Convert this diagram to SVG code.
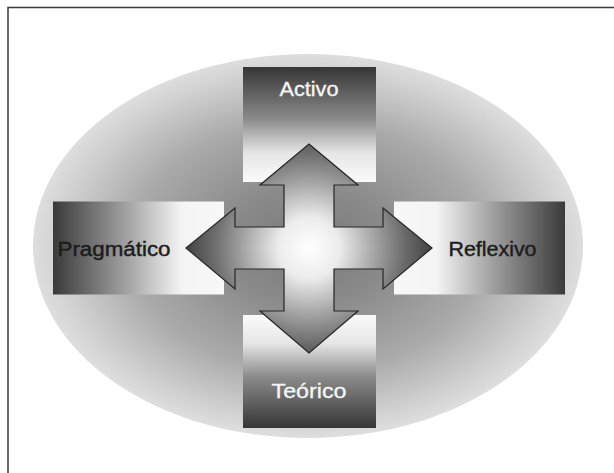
<svg xmlns="http://www.w3.org/2000/svg" width="614" height="473" viewBox="0 0 614 473">
  <style>
    .lbl { font-family: "Liberation Sans", Arial, sans-serif; font-size: 19.5px; text-anchor: middle; }
    .light { fill: #f6f6f6; stroke: #f6f6f6; stroke-width: 0.3; }
    .dark { fill: #1c1c1c; stroke: #1c1c1c; stroke-width: 0.4; }
    .frame { fill: none; stroke: #3a3a3a; stroke-width: 1.5; }
    .arrow { fill: url(#gArrow); stroke: #262626; stroke-width: 1.2; stroke-linejoin: miter; }
  </style>
  <defs>
    <radialGradient id="gEllipse" cx="0.5" cy="0.5" r="0.5">
      <stop offset="0" stop-color="#787878"/>
      <stop offset="0.3" stop-color="#8a8a8a"/>
      <stop offset="0.65" stop-color="#aaaaaa"/>
      <stop offset="0.9" stop-color="#d0d0d0"/>
      <stop offset="1" stop-color="#dedede"/>
    </radialGradient>
    <radialGradient id="gArrow" gradientUnits="userSpaceOnUse" cx="309" cy="248" r="122">
      <stop offset="0" stop-color="#ffffff"/>
      <stop offset="0.25" stop-color="#ececec"/>
      <stop offset="0.55" stop-color="#a2a2a2"/>
      <stop offset="0.8" stop-color="#686868"/>
      <stop offset="1" stop-color="#444444"/>
    </radialGradient>
    <linearGradient id="gTop" x1="0" y1="0" x2="0" y2="1">
      <stop offset="0" stop-color="#363636"/>
      <stop offset="0.45" stop-color="#8a8a8a"/>
      <stop offset="0.75" stop-color="#e6e6e6"/>
      <stop offset="1" stop-color="#fafafa"/>
    </linearGradient>
    <linearGradient id="gBottom" x1="0" y1="1" x2="0" y2="0">
      <stop offset="0" stop-color="#363636"/>
      <stop offset="0.45" stop-color="#8a8a8a"/>
      <stop offset="0.75" stop-color="#e6e6e6"/>
      <stop offset="1" stop-color="#fafafa"/>
    </linearGradient>
    <linearGradient id="gLeft" x1="0" y1="0" x2="1" y2="0">
      <stop offset="0" stop-color="#3a3a3a"/>
      <stop offset="0.4" stop-color="#9a9a9a"/>
      <stop offset="0.75" stop-color="#f4f4f4"/>
      <stop offset="1" stop-color="#f8f8f8"/>
    </linearGradient>
    <linearGradient id="gRight" x1="1" y1="0" x2="0" y2="0">
      <stop offset="0" stop-color="#3a3a3a"/>
      <stop offset="0.4" stop-color="#9a9a9a"/>
      <stop offset="0.75" stop-color="#f4f4f4"/>
      <stop offset="1" stop-color="#f8f8f8"/>
    </linearGradient>
  </defs>

  <rect width="614" height="473" fill="#ffffff"/>
  <path class="frame" d="M8,474 V7.5 H615"/>

  <g id="background">
    <ellipse cx="308" cy="246" rx="275" ry="192" fill="url(#gEllipse)"/>
  </g>

  <g id="activo">
    <rect x="243" y="67" width="133" height="115" fill="url(#gTop)"/>
    <text class="lbl light" x="309" y="96" textLength="59" lengthAdjust="spacingAndGlyphs">Activo</text>
  </g>

  <g id="teorico">
    <rect x="243" y="315" width="133" height="113" fill="url(#gBottom)"/>
    <text class="lbl light" x="309" y="398" textLength="75" lengthAdjust="spacingAndGlyphs">Teórico</text>
  </g>

  <g id="pragmatico">
    <rect x="53" y="201.5" width="171" height="93" fill="url(#gLeft)"/>
    <text class="lbl dark" x="114" y="256" textLength="113" lengthAdjust="spacingAndGlyphs">Pragmático</text>
  </g>

  <g id="reflexivo">
    <rect x="394" y="201.5" width="171" height="93" fill="url(#gRight)"/>
    <text class="lbl dark" x="492.5" y="256" textLength="88" lengthAdjust="spacingAndGlyphs">Reflexivo</text>
  </g>

  <g id="connectors">
    <polygon class="arrow" points="309,144 358,185 334,185 334,227 383,227 383,208 432,248 383,289 383,269 334,269 334,311 358,311 309,353 260,311 284,311 284,269 235,269 235,289 186,248 235,208 235,227 284,227 284,185 260,185"/>
  </g>
</svg>
